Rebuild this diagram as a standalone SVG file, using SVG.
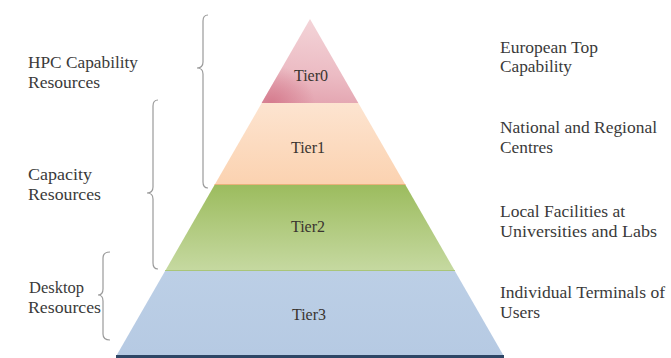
<svg xmlns="http://www.w3.org/2000/svg" width="671" height="358" viewBox="0 0 671 358">
  <defs>
    <linearGradient id="gTier0" x1="0.2" y1="0" x2="0.1" y2="1">
      <stop offset="0" stop-color="#f3d3d7"/>
      <stop offset="0.6" stop-color="#ecbcc4"/>
      <stop offset="1" stop-color="#e3a3af"/>
    </linearGradient>
    <radialGradient id="gTier0b" cx="0.1" cy="1" r="0.45">
      <stop offset="0" stop-color="#d4788b" stop-opacity="0.9"/>
      <stop offset="1" stop-color="#d4788b" stop-opacity="0"/>
    </radialGradient>
    <linearGradient id="gTier1" x1="0" y1="0" x2="0" y2="1">
      <stop offset="0" stop-color="#fde4d0"/>
      <stop offset="1" stop-color="#fbd2b0"/>
    </linearGradient>
    <linearGradient id="gTier2" x1="0" y1="0" x2="0" y2="1">
      <stop offset="0" stop-color="#9cbc5e"/>
      <stop offset="1" stop-color="#c6d9a1"/>
    </linearGradient>
    <linearGradient id="gTier3" x1="0" y1="0" x2="0" y2="1">
      <stop offset="0" stop-color="#bccfe6"/>
      <stop offset="1" stop-color="#b6cae3"/>
    </linearGradient>
  </defs>
  <style>
    text { font-family: "Liberation Serif", "DejaVu Serif", serif; }
    .lbl { font-size: 17px; fill: #3a3a3a; }
    .tier { font-size: 16px; fill: #3a3530; text-anchor: middle; }
    .brace { fill: none; stroke: #9a9a9a; stroke-width: 1.2; }
  </style>

  <rect width="671" height="358" fill="#ffffff"/>

  <!-- pyramid tiers -->
  <g id="tier0">
    <polygon points="310,19 358.3,103 261.7,103" fill="url(#gTier0)"/>
    <polygon points="310,19 358.3,103 261.7,103" fill="url(#gTier0b)"/>
    <text class="tier" x="311" y="81" font-family="Liberation Serif, serif">Tier0</text>
  </g>
  <g id="tier1">
    <polygon points="261.7,103 358.3,103 405.5,185 214.5,185" fill="url(#gTier1)"/>
    <line x1="214.5" y1="184.5" x2="405.5" y2="184.5" stroke="#e8b27a" stroke-width="1"/>
    <text class="tier" x="308" y="153" font-family="Liberation Serif, serif">Tier1</text>
  </g>
  <g id="tier2">
    <polygon points="214.5,185 405.5,185 454.9,271 165.1,271" fill="url(#gTier2)"/>
    <line x1="165.1" y1="270.5" x2="454.9" y2="270.5" stroke="#a9c57a" stroke-width="1"/>
    <text class="tier" x="308" y="232" font-family="Liberation Serif, serif">Tier2</text>
  </g>
  <g id="tier3">
    <polygon points="165.1,271 454.9,271 503.2,355 116.8,355" fill="url(#gTier3)"/>
    <rect x="116" y="355" width="388" height="3" fill="#2e4766"/>
    <text class="tier" x="309" y="320" font-family="Liberation Serif, serif">Tier3</text>
  </g>

  <!-- braces grouping the tiers -->
  <g id="connectors">
    <path class="brace" d="M208,15 Q203,15 203,21 L203,62 Q203,68 197,68 Q203,68 203,74 L203,182 Q203,188 208,188"/>
    <path class="brace" d="M158,100 Q153,100 153,106 L153,187 Q153,193 147,193 Q153,193 153,199 L153,263 Q153,269 158,269"/>
    <path class="brace" d="M110,252 Q103,252 103,258 L103,289 Q103,295 98,295 Q103,295 103,301 L103,334 Q103,340 110,340"/>
  </g>

  <!-- left-hand group labels -->
  <g id="label-hpc">
    <text class="lbl" x="28" y="68" textLength="110" lengthAdjust="spacingAndGlyphs">HPC Capability</text>
    <text class="lbl" x="28" y="88" textLength="72" lengthAdjust="spacingAndGlyphs">Resources</text>
  </g>
  <g id="label-capacity">
    <text class="lbl" x="28" y="180" textLength="64" lengthAdjust="spacingAndGlyphs">Capacity</text>
    <text class="lbl" x="28" y="200" textLength="73" lengthAdjust="spacingAndGlyphs">Resources</text>
  </g>
  <g id="label-desktop">
    <text class="lbl" x="29" y="293" textLength="55" lengthAdjust="spacingAndGlyphs">Desktop</text>
    <text class="lbl" x="28" y="313" textLength="73" lengthAdjust="spacingAndGlyphs">Resources</text>
  </g>

  <!-- right-hand tier descriptions -->
  <g id="desc-tier0">
    <text class="lbl" x="500" y="53" textLength="98" lengthAdjust="spacingAndGlyphs">European Top</text>
    <text class="lbl" x="500" y="72" textLength="72" lengthAdjust="spacingAndGlyphs">Capability</text>
  </g>
  <g id="desc-tier1">
    <text class="lbl" x="500" y="133" textLength="157" lengthAdjust="spacingAndGlyphs">National and Regional</text>
    <text class="lbl" x="500" y="153" textLength="53" lengthAdjust="spacingAndGlyphs">Centres</text>
  </g>
  <g id="desc-tier2">
    <text class="lbl" x="500" y="217" textLength="125" lengthAdjust="spacingAndGlyphs">Local Facilities at</text>
    <text class="lbl" x="500" y="237" textLength="157" lengthAdjust="spacingAndGlyphs">Universities and Labs</text>
  </g>
  <g id="desc-tier3">
    <text class="lbl" x="500" y="298" textLength="165" lengthAdjust="spacingAndGlyphs">Individual Terminals of</text>
    <text class="lbl" x="500" y="318" textLength="40" lengthAdjust="spacingAndGlyphs">Users</text>
  </g>
</svg>
